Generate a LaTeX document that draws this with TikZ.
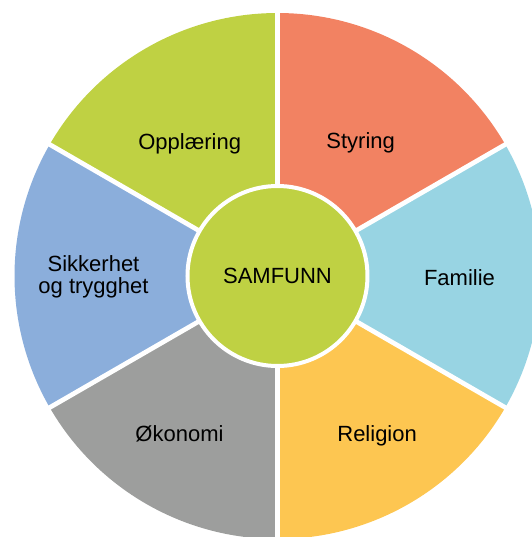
\documentclass[tikz,border=0pt]{standalone}
\usepackage{fontspec}
\setmainfont{Liberation Sans}
\usepackage{tikz}

\definecolor{segGreen}{RGB}{191,209,67}
\definecolor{segSalmon}{RGB}{242,130,98}
\definecolor{segSky}{RGB}{152,212,227}
\definecolor{segYellow}{RGB}{253,198,81}
\definecolor{segGrey}{RGB}{157,158,157}
\definecolor{segBlue}{RGB}{139,174,219}

\tikzset{
    gap/.style={white, line width=3.5pt},
    label/.style={font=\fontsize{16.5}{17}\selectfont, align=center, inner sep=0pt}
}

\begin{document}
\begin{tikzpicture}[x=0.75pt,y=0.75pt]
    \useasboundingbox (-277.5,-261) rectangle (254.5,276);
    \clip (-277.5,-261) rectangle (254.5,276);

    \fill[segSalmon] (0,0) -- (30:263) arc[start angle=30, end angle=90, radius=263] -- cycle;
    \fill[segGreen] (0,0) -- (90:263) arc[start angle=90, end angle=150, radius=263] -- cycle;
    \fill[segBlue] (0,0) -- (150:263) arc[start angle=150, end angle=210, radius=263] -- cycle;
    \fill[segGrey] (0,0) -- (210:263) arc[start angle=210, end angle=270, radius=263] -- cycle;
    \fill[segYellow] (0,0) -- (270:263) arc[start angle=270, end angle=330, radius=263] -- cycle;
    \fill[segSky] (0,0) -- (-30:263) arc[start angle=-30, end angle=30, radius=263] -- cycle;

    \foreach \a in {30,90,...,330}
        \draw[gap] (0,0) -- (\a:270);

    \node[circle, fill=segGreen, draw=white, line width=3pt, minimum size=135pt, label] (samfunn) at (0,0) {SAMFUNN};

    \node[label] (styring) at (58:157) {Styring};
    \node[label] (opplaering) at (123.5:159) {Opplæring};
    \node[label] (sikkerhet) at (180.3:184) {Sikkerhet\\og trygghet};
    \node[label] (okonomi) at (-121.8:186) {Økonomi};
    \node[label] (religion) at (-58:188) {Religion};
    \node[label] (familie) at (-0.5:182) {Familie};
\end{tikzpicture}
\end{document}
